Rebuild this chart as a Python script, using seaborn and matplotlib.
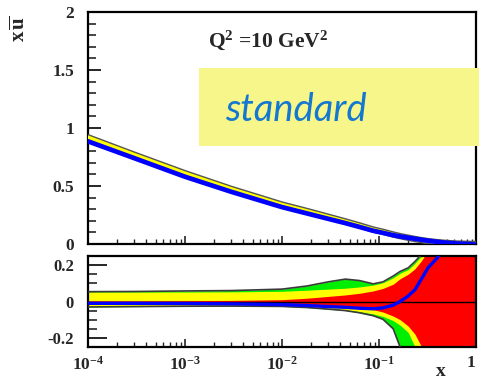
import numpy as np
import pandas as pd
import matplotlib
matplotlib.use("Agg")
import matplotlib.pyplot as plt
import matplotlib.patheffects as pe
from matplotlib.patches import Rectangle
from matplotlib.ticker import FixedLocator, NullFormatter
import seaborn as sns

# sample points in x
x_grid = [1e-4, 3e-4, 1e-3, 3e-3, 0.01, 0.018, 0.03, 0.045, 0.063, 0.087, 0.11,
          0.14, 0.165, 0.2, 0.235, 0.275, 0.32, 0.4, 0.5, 0.63, 0.8, 1.0]

# x*ubar, reference fit (yellow)
xubar_ref = [0.92, 0.77, 0.61, 0.475, 0.34, 0.285, 0.235, 0.195, 0.16, 0.125, 0.105,
             0.082, 0.068, 0.054, 0.043, 0.033, 0.025, 0.016, 0.009, 0.004, 0.0015, 0.0]
# x*ubar, comparison fit (blue)
xubar_cmp = [0.885, 0.74, 0.58, 0.45, 0.318, 0.264, 0.217, 0.18, 0.147, 0.114, 0.096,
             0.076, 0.065, 0.054, 0.045, 0.036, 0.028, 0.018, 0.01, 0.004, 0.0, -0.005]

# relative difference of the comparison fit
ratio_cmp = [-0.01, -0.01, -0.011, -0.013, -0.017, -0.022, -0.028, -0.032, -0.037, -0.04, -0.035,
             -0.02, 0.0, 0.03, 0.065, 0.125, 0.185, 0.24, 0.33, 0.45, 0.5, 0.5]

# relative uncertainty bands: green (outer), yellow, red (inner)
green_hi = [0.054, 0.055, 0.058, 0.06, 0.068, 0.085, 0.108, 0.123, 0.115, 0.097, 0.108,
            0.14, 0.165, 0.185, 0.22, 0.26, 0.35, 0.5, 0.5, 0.5, 0.5, 0.5]
green_lo = [-0.03, -0.028, -0.026, -0.025, -0.027, -0.033, -0.042, -0.05, -0.062, -0.078, -0.098,
            -0.15, -0.25, -0.4, -0.5, -0.5, -0.5, -0.5, -0.5, -0.5, -0.5, -0.5]
yellow_hi = [0.052, 0.052, 0.052, 0.053, 0.056, 0.062, 0.068, 0.073, 0.08, 0.09, 0.103,
             0.13, 0.155, 0.175, 0.21, 0.25, 0.34, 0.5, 0.5, 0.5, 0.5, 0.5]
yellow_lo = [-0.028, -0.026, -0.024, -0.023, -0.025, -0.03, -0.038, -0.046, -0.055, -0.068, -0.082,
             -0.105, -0.13, -0.17, -0.25, -0.35, -0.5, -0.5, -0.5, -0.5, -0.5, -0.5]
red_hi = [0.004, 0.004, 0.005, 0.006, 0.01, 0.018, 0.028, 0.036, 0.045, 0.058, 0.072,
          0.095, 0.125, 0.15, 0.18, 0.225, 0.28, 0.4, 0.5, 0.5, 0.5, 0.5]
red_lo = [-0.004, -0.004, -0.005, -0.006, -0.01, -0.015, -0.02, -0.026, -0.034, -0.045, -0.058,
          -0.08, -0.1, -0.135, -0.18, -0.25, -0.33, -0.45, -0.5, -0.5, -0.5, -0.5]

top_yticks = [0, 0.5, 1, 1.5, 2]
top_ylabels = ["0", "0.5", "1", "1.5", "2"]
bot_yticks = [-0.2, 0, 0.2]
bot_ylabels = ["-0.2", "0", "0.2"]
x_ticks = [1e-4, 1e-3, 1e-2, 1e-1, 1]
x_labels = [r"$\mathbf{10^{-4}}$", r"$\mathbf{10^{-3}}$", r"$\mathbf{10^{-2}}$",
            r"$\mathbf{10^{-1}}$", r"$\mathbf{1}$"]

sns.set_style("ticks")
plt.rcParams["font.family"] = ["Liberation Serif", "DejaVu Serif"]
plt.rcParams["mathtext.fontset"] = "custom"
plt.rcParams["mathtext.rm"] = "Liberation Serif"
plt.rcParams["mathtext.bf"] = "Liberation Serif:bold"
plt.rcParams["mathtext.it"] = "Liberation Serif:italic"

df = pd.DataFrame({"x": x_grid, "ref": xubar_ref, "cmp": xubar_cmp, "ratio": ratio_cmp,
                   "g_hi": green_hi, "g_lo": green_lo, "y_hi": yellow_hi, "y_lo": yellow_lo,
                   "r_hi": red_hi, "r_lo": red_lo})

W, H = 479, 380
fig = plt.figure(figsize=(W / 100, H / 100), dpi=100)
ax_top = fig.add_axes([88 / W, 1 - 244 / H, 388 / W, 232 / H])
ax_bot = fig.add_axes([88 / W, 1 - 347 / H, 388 / W, 91 / H])

GREEN, YELLOW, RED, BLUE = "#00ee00", "#ffff00", "#ff0000", "#0000ff"
EDGE = "#3a3a3a"

# ---- upper panel: x*ubar ----
sns.lineplot(data=df, x="x", y="ref", ax=ax_top, color=YELLOW, lw=2.6, zorder=4,
             path_effects=[pe.Stroke(linewidth=4.6, foreground="#555555"), pe.Normal()])
sns.lineplot(data=df, x="x", y="cmp", ax=ax_top, color=BLUE, lw=3.4, zorder=5)

# ---- lower panel: relative uncertainties ----
for lo, hi, col in [("g_lo", "g_hi", GREEN), ("y_lo", "y_hi", YELLOW), ("r_lo", "r_hi", RED)]:
    ax_bot.fill_between(df["x"], df[lo], df[hi], color=col, lw=0, zorder=2)
ax_bot.plot(df["x"], df["g_hi"], color=EDGE, lw=1.2, zorder=3)
ax_bot.plot(df["x"], df["g_lo"], color=EDGE, lw=1.2, zorder=3)
ax_bot.axhline(0, color="black", lw=1.0, zorder=4)
sns.lineplot(data=df, x="x", y="ratio", ax=ax_bot, color=BLUE, lw=2.4, zorder=5)

minor_x = [m * 10.0 ** e for e in range(-4, 0) for m in range(2, 10)]
for ax in (ax_top, ax_bot):
    ax.set_xscale("log")
    ax.set_xlim(1e-4, 1)
    ax.set_xlabel("")
    ax.set_ylabel("")
    ax.xaxis.set_major_locator(FixedLocator(x_ticks))
    ax.xaxis.set_minor_locator(FixedLocator(minor_x))
    ax.xaxis.set_minor_formatter(NullFormatter())
    for s in ax.spines.values():
        s.set_linewidth(1.6)
        s.set_color("black")
        s.set_visible(True)

ax_top.set_ylim(0, 2)
ax_top.set_yticks(top_yticks)
ax_top.set_yticklabels(top_ylabels, fontweight="bold", fontsize=12.5)
ax_top.yaxis.set_minor_locator(FixedLocator([i / 10 for i in range(21)]))
ax_top.set_xticklabels([])
ax_top.tick_params(axis="y", which="major", direction="in", length=9, width=1.4, pad=10)
ax_top.tick_params(axis="y", which="minor", direction="in", length=5.5, width=1.2)
ax_top.tick_params(axis="x", which="major", direction="in", length=6, width=1.2)
ax_top.tick_params(axis="x", which="minor", direction="in", length=3.5, width=1.0)

ax_bot.set_ylim(-0.25, 0.25)
ax_bot.set_yticks(bot_yticks)
ax_bot.set_yticklabels(bot_ylabels, fontweight="bold", fontsize=12)
ax_bot.yaxis.set_minor_locator(FixedLocator([-0.15, -0.1, -0.05, 0.05, 0.1, 0.15]))
ax_bot.set_xticklabels(x_labels, fontsize=12.5)
ax_bot.get_xticklabels()[-1].set_horizontalalignment("right")
ax_bot.tick_params(axis="y", which="major", direction="in", length=13.5, width=1.4, pad=10,
                   left=True, right=True)
ax_bot.tick_params(axis="y", which="minor", direction="in", length=6.5, width=1.2,
                   left=True, right=True)
ax_bot.tick_params(axis="x", which="major", direction="in", length=6, width=1.2, pad=6)
ax_bot.tick_params(axis="x", which="minor", direction="in", length=3.5, width=1.0)

# axis titles
fig.text(20 / W, 1 - 29 / H, r"$\mathbf{x\,\overline{u}}$", rotation=90, fontsize=15,
         ha="center", va="center")
fig.text(441 / W, 1 - 372 / H, "x", fontsize=14, fontweight="bold", ha="center", va="center")

# scale label
ax_top.text(0.465, 0.88, r"$\mathbf{Q^{2}}$ =10 GeV$\mathbf{^{2}}$", transform=ax_top.transAxes,
            fontsize=15.5, fontweight="bold", ha="center", va="center")

# highlighted scheme label
fig.patches.append(Rectangle((199 / W, 1 - 146 / H), (W - 199) / W, 78 / H,
                             transform=fig.transFigure, facecolor="#f6f68a",
                             edgecolor="none", zorder=10))
fig.text(296 / W, 1 - 110 / H, "standard", fontsize=27.5, style="italic",
         family=["Lato", "DejaVu Sans"], color="#1477d0", ha="center", va="center",
         zorder=11)

fig.savefig("out.png", dpi=100)
